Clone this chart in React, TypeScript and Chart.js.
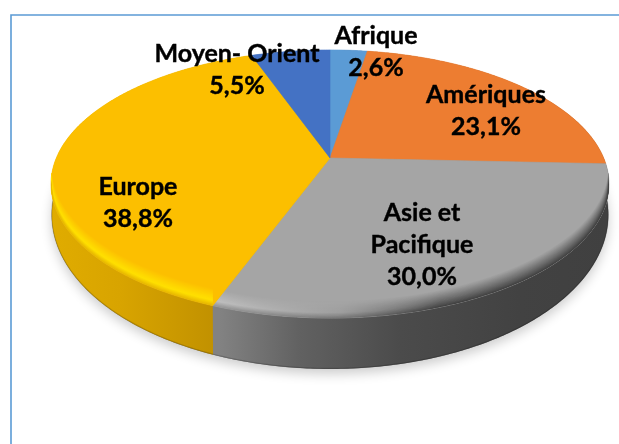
import React, { useEffect, useRef } from "react";
import { Chart, registerables } from "chart.js";

Chart.register(...registerables);

const categories = ["Afrique", "Amériques", "Asie et Pacifique", "Europe", "Moyen- Orient"];
const shares = [2.6, 23.1, 30.0, 38.8, 5.5];
const shareLabels = ["2,6%", "23,1%", "30,0%", "38,8%", "5,5%"];
const labelLines = [["Afrique"], ["Amériques"], ["Asie et", "Pacifique"], ["Europe"], ["Moyen- Orient"]];

const faceColors = ["#5b9bd5", "#ed7d31", "#a5a5a5", "#fcbf00", "#4472c4"];

const W = 619;
const H = 444;
const CX = 330;
const K = 0.194;
const TOP = { R: 273.7, S: 129, Y0: 158 };
const BOT = { R: 273, S: 148.2, Y0: 185.1 };
const BEVEL = 17;

// [x, colour] stops of each slice's outer wall
const wallStops: [number, string][][] = [
  [[0, "#3f73a5"], [619, "#3f73a5"]],
  [[500, "#a85420"], [619, "#6e3a18"]],
  [[220, "#828282"], [300, "#616161"], [400, "#4b4b4b"], [520, "#424242"], [610, "#404040"]],
  [[50, "#e0ac00"], [120, "#d8a400"], [220, "#c09000"]],
  [[0, "#2f5597"], [619, "#2f5597"]],
];
// centre of the label block of each slice, and line spacing
const labelAnchors: [number, number][] = [[376, 52], [486, 111], [422, 245], [138, 203], [237, 70]];
const LINE = 32;

function proj(p: { R: number; S: number; Y0: number }, a: number, r = 1) {
  const u = Math.cos(a) * r;
  const v = Math.sin(a) * r;
  const w = 1 - K * v;
  return { x: CX + (p.R * u) / w, y: p.Y0 + (p.S * v) / w };
}

function samples(a0: number, a1: number) {
  const n = Math.max(2, Math.ceil((a1 - a0) / 0.01));
  const out: number[] = [];
  for (let i = 0; i <= n; i++) out.push(a0 + ((a1 - a0) * i) / n);
  return out;
}

function mix(a: number[], b: number[], t: number) {
  return a.map((c, i) => Math.round(c + (b[i] - c) * t));
}
function rgb(c: number[]) {
  return `rgb(${c[0]},${c[1]},${c[2]})`;
}

const pie3d = {
  id: "pie3d",
  beforeDraw(chart: any) {
    const ctx = chart.ctx;
    ctx.save();
    ctx.fillStyle = "#ffffff";
    ctx.fillRect(0, 0, W, H);
    ctx.strokeStyle = "#5b9bd5";
    ctx.lineWidth = 1.6;
    ctx.beginPath();
    ctx.moveTo(11, H);
    ctx.lineTo(11, 15);
    ctx.lineTo(W, 15);
    ctx.stroke();
    ctx.restore();
  },
  beforeDatasetDraw(chart: any) {
    const ctx = chart.ctx;
    const arcs = chart.getDatasetMeta(0).data;
    const ranges = arcs.map((el: any) => {
      const p = el.getProps(["startAngle", "endAngle"], true);
      return [p.startAngle, p.endAngle];
    });

    // soft shadow beneath the disc
    ctx.save();
    ctx.shadowColor = "rgba(0,0,0,0.2)";
    ctx.shadowBlur = 12;
    ctx.shadowOffsetY = 5;
    ctx.fillStyle = "#808080";
    ctx.beginPath();
    samples(0, Math.PI * 2).forEach((a, i) => {
      const q = proj(BOT, a);
      i ? ctx.lineTo(q.x, q.y) : ctx.moveTo(q.x, q.y);
    });
    ctx.closePath();
    ctx.fill();
    ctx.restore();

    // outer walls
    ranges.forEach(([a0, a1]: number[], i: number) => {
      const g = ctx.createLinearGradient(0, 0, W, 0);
      wallStops[i].forEach(([x, c]) => g.addColorStop(Math.min(1, x / W), c));
      const pts = samples(a0, a1);
      ctx.beginPath();
      pts.forEach((a, j) => {
        const q = proj(TOP, a);
        j ? ctx.lineTo(q.x, q.y) : ctx.moveTo(q.x, q.y);
      });
      pts.slice().reverse().forEach((a) => {
        const q = proj(BOT, a);
        ctx.lineTo(q.x, q.y);
      });
      ctx.closePath();
      ctx.fillStyle = g;
      ctx.fill();

      // slightly darker foot of the wall
      ctx.strokeStyle = "rgba(0,0,0,0.18)";
      ctx.lineWidth = 1.2;
      ctx.beginPath();
      pts.forEach((a, j) => {
        const q = proj(BOT, a);
        j ? ctx.lineTo(q.x, q.y - 0.5) : ctx.moveTo(q.x, q.y - 0.5);
      });
      ctx.stroke();
    });

    // top faces with a bevelled front edge
    ranges.forEach(([a0, a1]: number[], i: number) => {
      const color = arcs[i].options.backgroundColor;
      const path = new Path2D();
      path.moveTo(CX, TOP.Y0);
      samples(a0, a1).forEach((a) => {
        const q = proj(TOP, a);
        path.lineTo(q.x, q.y);
      });
      path.closePath();
      ctx.fillStyle = color;
      ctx.strokeStyle = color;
      ctx.lineWidth = 0.6;
      ctx.fill(path);
      ctx.stroke(path);

      const lo = Math.max(a0, Math.asin(K));
      const hi = Math.min(a1, Math.PI - Math.asin(K));
      if (hi <= lo) return;
      ctx.save();
      ctx.clip(path);
      const steps = 24;
      for (let s = steps; s >= 0; s--) {
        const t = s / steps;
        const dy = t * BEVEL;
        const strip = ctx.createLinearGradient(0, 0, W, 0);
        if (i === 3) {
          const c =
            t < 0.3
              ? mix([232, 184, 0], [255, 224, 0], t / 0.3)
              : mix([255, 224, 0], [252, 191, 0], (t - 0.3) / 0.7);
          strip.addColorStop(0, rgb(c));
          strip.addColorStop(1, rgb(c));
        } else {
          const base = [165, 165, 165];
          const litLeft =
            t < 0.3 ? mix([150, 150, 150], [190, 190, 190], t / 0.3) : mix([190, 190, 190], base, (t - 0.3) / 0.7);
          const darkRight = mix([64, 64, 64], base, Math.pow(t, 0.9));
          strip.addColorStop(220 / W, rgb(litLeft));
          strip.addColorStop(340 / W, rgb(mix(litLeft, darkRight, 0.35)));
          strip.addColorStop(440 / W, rgb(darkRight));
          strip.addColorStop(1, rgb(darkRight));
        }
        ctx.strokeStyle = strip;
        ctx.lineWidth = 1.4;
        ctx.beginPath();
        samples(lo, hi).forEach((a, j) => {
          const q = proj(TOP, a);
          j ? ctx.lineTo(q.x, q.y - dy) : ctx.moveTo(q.x, q.y - dy);
        });
        ctx.stroke();
      }
      ctx.restore();
    });
    return false;
  },
  afterDraw(chart: any) {
    const ctx = chart.ctx;
    ctx.save();
    ctx.fillStyle = "#000000";
    ctx.strokeStyle = "#000000";
    ctx.lineWidth = 0.4;
    ctx.font = "bold 25px Lato";
    ctx.textAlign = "center";
    ctx.textBaseline = "middle";
    chart.data.labels.forEach((_: string, i: number) => {
      const lines = [...labelLines[i], shareLabels[i]];
      const [x, y] = labelAnchors[i];
      lines.forEach((line, j) => {
        const ly = y + (j - (lines.length - 1) / 2) * LINE;
        ctx.fillText(line, x, ly);
        ctx.strokeText(line, x, ly);
      });
    });
    ctx.restore();
  },
};

export default function App() {
  const ref = useRef<HTMLCanvasElement>(null);
  useEffect(() => {
    document.body.style.margin = "0";
    const chart = new Chart(ref.current as HTMLCanvasElement, {
      type: "pie",
      data: {
        labels: categories,
        datasets: [{ data: shares, backgroundColor: faceColors, borderWidth: 0 }],
      },
      options: {
        responsive: false,
        animation: false,
        plugins: { legend: { display: false }, tooltip: { enabled: false } },
      },
      plugins: [pie3d],
    } as any);
    return () => chart.destroy();
  }, []);
  return <canvas ref={ref} width={W} height={H} style={{ display: "block" }} />;
}
